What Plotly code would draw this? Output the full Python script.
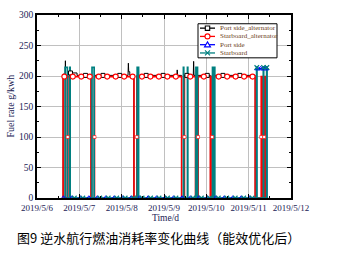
import pandas as pd
import plotly.graph_objects as go

BASE = pd.Timestamp("2019-05-06")

# ---- data: (hours since 2019-05-06 00:00, fuel rate g/kWh) ----
port_alt = [(14.8, 0), (14.8, 203), (16.0, 203), (16.1, 225), (16.2, 203), (16.2, 0),
            (17.5, 0), (17.5, 205), (22.7, 205), (22.7, 201), (30.6, 201), (30.6, 0),
            (32.6, 0), (32.6, 201), (51.6, 201), (51.8, 221), (52.0, 207), (52.6, 207),
            (52.6, 201), (54.9, 201), (54.9, 0), (56.6, 0), (56.6, 201), (79.3, 201),
            (79.5, 210), (79.7, 201), (81.9, 201), (81.9, 0), (83.6, 0), (83.6, 201),
            (88.6, 201), (88.8, 224), (89.0, 201), (89.8, 201), (89.8, 0), (91.3, 0),
            (91.3, 201), (98.3, 201), (98.3, 0), (99.3, 0), (99.3, 201), (123.7, 201),
            (123.7, 0), (131.0, 0)]
port_alt_marks = [(19.0, 205), (27.5, 201), (37.4, 201), (46.9, 201), (61.9, 201),
                  (71.5, 201), (85.0, 201), (96.5, 201), (105.4, 201), (115.0, 201)]

stbd_alt = [(14.8, 0), (14.8, 199), (16.2, 199), (16.2, 0), (17.4, 0), (17.4, 199),
            (30.7, 199), (30.7, 0), (32.6, 0), (32.6, 199), (55.0, 199), (55.0, 0),
            (56.6, 0), (56.6, 199), (82.0, 199), (82.0, 0), (83.6, 0), (83.6, 199),
            (89.9, 199), (89.9, 0), (91.3, 0), (91.3, 199), (98.3, 199), (98.3, 0),
            (99.3, 0), (99.3, 199), (123.7, 199), (123.7, 0), (127.1, 0), (127.1, 199),
            (127.7, 199), (127.7, 0), (128.8, 0), (128.8, 199), (129.4, 199), (129.4, 0),
            (131.0, 0)]
stbd_alt_marks = [(15.5, 199), (20.3, 199), (25.1, 199), (29.9, 199), (35.0, 199),
                  (39.8, 199), (44.6, 199), (49.4, 199), (54.2, 199), (59.5, 199),
                  (64.3, 199), (69.1, 199), (73.9, 199), (78.7, 199), (86.9, 199),
                  (94.6, 199), (103.0, 199), (107.8, 199), (112.6, 199), (117.4, 199),
                  (122.2, 199)]
stbd_alt_mid = [(17.4, 100), (32.6, 100), (56.6, 100), (83.6, 100),
                (91.3, 100), (99.3, 100), (127.1, 100), (128.8, 100)]

port = [(14.8, 0), (124.5, 0), (124.5, 212), (130.3, 212), (130.3, 0), (131.0, 0)]
port_marks = [(15.0, 0), (19.8, 0), (24.6, 0), (29.4, 0), (34.2, 0), (39.0, 0), (43.8, 0),
              (48.6, 0), (53.4, 0), (58.2, 0), (63.0, 0), (67.8, 0), (72.6, 0), (77.4, 0),
              (82.2, 0), (87.0, 0), (91.8, 0), (96.6, 0), (101.4, 0), (106.2, 0),
              (111.0, 0), (115.8, 0), (120.6, 0), (124.9, 212), (126.7, 212),
              (128.5, 212), (130.1, 212)]

stbd = [(14.8, 0), (15.9, 0), (15.9, 214), (17.2, 214), (17.2, 0), (18.6, 0), (18.6, 214),
        (18.8, 214), (18.8, 0), (31.2, 0), (31.2, 214), (32.4, 214), (32.4, 0), (56.8, 0),
        (56.8, 214), (57.6, 214), (57.6, 0), (83.0, 0), (83.0, 214), (83.2, 214), (83.2, 0),
        (85.3, 0), (85.3, 214), (85.5, 214), (85.5, 0), (90.1, 0), (90.1, 214), (91.0, 214),
        (91.0, 0), (99.5, 0), (99.5, 214), (99.7, 214), (99.7, 0), (100.6, 0), (100.6, 214),
        (100.8, 214), (100.8, 0), (124.5, 0), (124.5, 214), (124.7, 214), (124.7, 0),
        (128.3, 0), (128.3, 214), (128.5, 214), (128.5, 0), (130.2, 0), (130.2, 214),
        (130.4, 214), (130.4, 0), (131.0, 0)]
stbd_marks = [(21.2, 0), (26.0, 0), (35.6, 0), (40.4, 0), (45.2, 0), (50.0, 0), (54.8, 0),
              (59.6, 0), (64.4, 0), (69.2, 0), (74.0, 0), (78.8, 0), (88.4, 0), (93.2, 0),
              (97.8, 0), (102.8, 0), (107.6, 0), (112.4, 0), (117.2, 0), (122.0, 0),
              (124.6, 214), (128.4, 214), (130.3, 214)]

series_names = ["Port side_alternator", "Starboard_alternator", "Port side", "Starboard"]
y_ticks = [0, 50, 100, 150, 200, 250, 300]
x_range = ["2019-05-06", "2019-05-12"]
y_title = "Fuel rate g/kwh"
x_title = "Time/d"
caption = "图9 逆水航行燃油消耗率变化曲线（能效优化后）"

BLACK, RED, BLUE, TEAL = "#000000", "#ff0000", "#0000ff", "#008080"


def to_time(pairs):
    return [BASE + pd.Timedelta(hours=p[0]) for p in pairs]


def vals(pairs):
    return [p[1] for p in pairs]


fig = go.Figure()


def add_line(pairs, color, width, name):
    fig.add_trace(go.Scatter(x=to_time(pairs), y=vals(pairs), mode="lines", name=name,
                             line=dict(color=color, width=width), showlegend=False,
                             hoverinfo="skip"))


def add_marks(pairs, symbol, color, fill, size, lw, name):
    fig.add_trace(go.Scatter(x=to_time(pairs), y=vals(pairs), mode="markers", name=name,
                             marker=dict(symbol=symbol, size=size, color=fill,
                                         line=dict(color=color, width=lw)),
                             showlegend=False, hoverinfo="skip"))


add_line(port_alt, BLACK, 1.0, series_names[0])
add_line(stbd_alt, RED, 1.6, series_names[1])
add_line(port, BLUE, 1.2, series_names[2])
add_line(stbd, TEAL, 1.7, series_names[3])
add_marks(port_alt_marks, "square", BLACK, "white", 4, 1, series_names[0])
add_marks(stbd_alt_marks, "circle", RED, "white", 5, 1.1, series_names[1])
add_marks(stbd_alt_mid, "square", RED, "white", 3, 0.6, series_names[1])
add_marks(port_marks, "triangle-up-open", BLUE, BLUE, 4.5, 1.0, series_names[2])
add_marks(stbd_marks, "x-thin-open", TEAL, TEAL, 4.5, 1.2, series_names[3])

W, H = 350, 254
L, R, T, B = 37, 59, 10, 56
PW, PH = W - L - R, H - T - B


def px2x(px):
    return (px - L) / PW


def px2y(py):
    return (H - B - py) / PH


AX_COL = "#222255"
fig.update_layout(
    width=W, height=H, margin=dict(l=L, r=R, t=T, b=B),
    paper_bgcolor="white", plot_bgcolor="white", showlegend=False,
    font=dict(family="Liberation Serif", size=9, color=AX_COL),
)
fig.update_xaxes(
    type="date", range=x_range, dtick=86400000, tick0="2019-05-06",
    tickformat="%Y/%-m/%-d", ticks="inside", ticklen=4, tickcolor="black",
    showline=True, linecolor="black", linewidth=1.5, mirror="allticks",
    showgrid=True, gridcolor="#c0c0c0", gridwidth=1, zeroline=False,
    tickfont=dict(size=9, color=AX_COL),
    minor=dict(dtick=43200000, ticks="inside", ticklen=2.5, tickcolor="black", showgrid=False),
)
fig.update_yaxes(
    range=[0, 300], tickvals=y_ticks, ticks="inside", ticklen=4, tickcolor="black",
    showline=True, linecolor="black", linewidth=1.5, mirror="allticks",
    showgrid=True, gridcolor="#c0c0c0", gridwidth=1, zeroline=False,
    tickfont=dict(size=9.5, color=AX_COL),
    minor=dict(dtick=25, ticks="inside", ticklen=2.5, tickcolor="black", showgrid=False),
)

annotations = [
    dict(text=y_title, x=px2x(10), y=px2y(104), xref="paper", yref="paper", textangle=-90,
         xanchor="center", yanchor="middle",
         showarrow=False, font=dict(family="Liberation Serif", size=10, color=AX_COL)),
    dict(text=x_title, x=px2x(165), y=px2y(219), xref="paper", yref="paper",
         xanchor="center", yanchor="middle",
         showarrow=False, font=dict(family="Liberation Serif", size=9.5, color=AX_COL)),
    dict(text=caption, x=px2x(15), y=px2y(239), xref="paper", yref="paper", xanchor="left",
         yanchor="middle",
         showarrow=False, font=dict(family="Noto Sans CJK SC", size=13, color="black")),
]

# ---- hand-drawn legend box (Origin style, compact) ----
shapes = [dict(type="rect", xref="paper", yref="paper", x0=px2x(198), x1=px2x(277),
               y0=px2y(54), y1=px2y(19), line=dict(color="black", width=1),
               fillcolor="white", layer="above")]
rows = [23.5, 32, 40.5, 49]
leg_cols = [BLACK, RED, BLUE, TEAL]
leg_text_col = "#6b4020"
for i, (ry, col, nm) in enumerate(zip(rows, leg_cols, series_names)):
    shapes.append(dict(type="line", xref="paper", yref="paper", x0=px2x(200), x1=px2x(215),
                       y0=px2y(ry), y1=px2y(ry), line=dict(color=col, width=1.3)))
    base = dict(xref="paper", yref="paper", xsizemode="pixel", ysizemode="pixel",
                xanchor=px2x(207.5), yanchor=px2y(ry), line=dict(color=col, width=1.1))
    if i == 0:
        shapes.append(dict(type="rect", x0=-2.2, x1=2.2, y0=-2.2, y1=2.2,
                           fillcolor="white", **base))
    elif i == 1:
        shapes.append(dict(type="circle", x0=-2.5, x1=2.5, y0=-2.5, y1=2.5,
                           fillcolor="white", **base))
    elif i == 2:
        shapes.append(dict(type="path", path="M -3,-2.2 L 3,-2.2 L 0,2.8 Z",
                           fillcolor="white", **base))
    else:
        shapes.append(dict(type="path", path="M -2.5,-2.5 L 2.5,2.5 M -2.5,2.5 L 2.5,-2.5",
                           **base))
    annotations.append(dict(text=nm, x=px2x(218), y=px2y(ry), xref="paper", yref="paper",
                            xanchor="left", yanchor="middle", showarrow=False,
                            font=dict(family="Liberation Serif", size=7, color=leg_text_col)))

fig.update_layout(shapes=shapes, annotations=annotations)
fig.write_html("out.html")
